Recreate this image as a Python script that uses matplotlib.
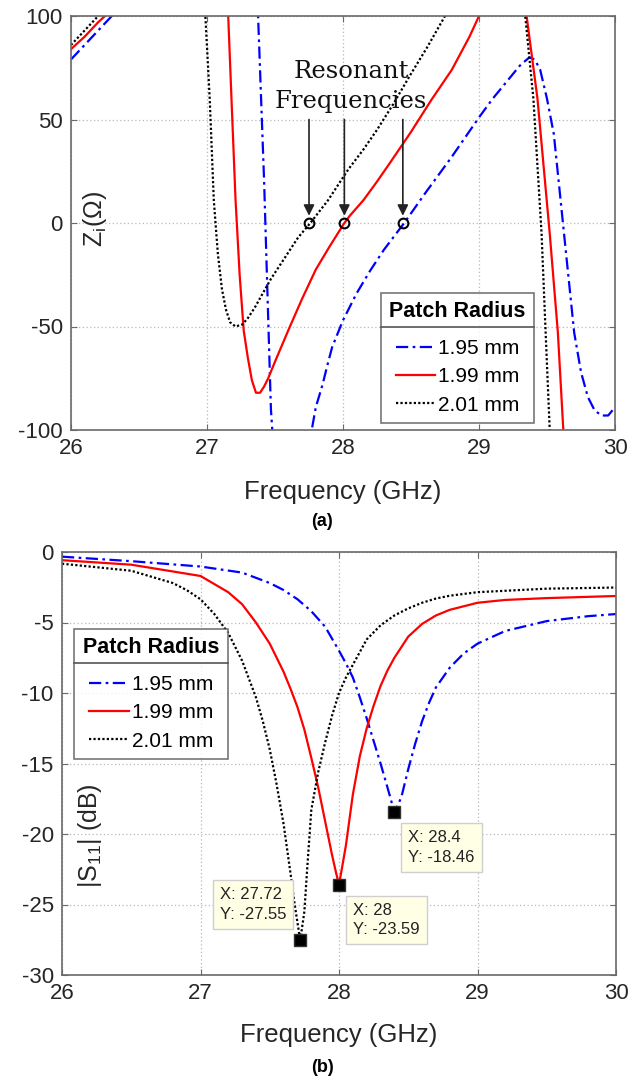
import numpy as np
import matplotlib
matplotlib.use("Agg")
import matplotlib.pyplot as plt
from matplotlib.lines import Line2D

plt.rcParams['font.family'] = ['Liberation Sans', 'DejaVu Sans']
plt.rcParams['mathtext.fontset'] = 'custom'
plt.rcParams['mathtext.rm'] = 'Liberation Sans'
plt.rcParams['mathtext.it'] = 'Liberation Sans'
plt.rcParams['axes.unicode_minus'] = False

labels = ['1.95 mm', '1.99 mm', '2.01 mm']
colors = ['#0000ff', '#ff0000', '#000000']
styles = [(0, (5.5, 2, 1.2, 2)), '-', (0, (1, 1))]

# ---------- (a) imaginary impedance ----------
zf_195 = [26.0, 26.1, 26.2, 26.3, 26.35, np.nan,
          27.37, 27.42, 27.47, 27.49, np.nan,
          27.74, 27.77, 27.8, 27.85, 27.88, 27.92, 28.0, 28.1, 28.2, 28.3, 28.45, 28.6, 28.8, 29.0,
          29.1, 29.2, 29.3, 29.37, 29.41, 29.45, 29.5, 29.55, 29.6, 29.65, 29.7, 29.75, 29.8,
          29.85, 29.9, 29.95, 30.0]
zi_195 = [79, 86, 93, 100, 104, np.nan,
          110, 20, -90, -110, np.nan,
          -110, -100, -89, -78, -70, -60, -47, -34, -23, -13, 0, 14, 32, 51,
          60, 68, 76, 80, 79, 74, 60, 43, 11, -21, -53, -72, -84,
          -90.5, -93, -93, -89]

zf_199 = [26.0, 26.1, 26.2, 26.25, 26.3, np.nan,
          27.15, 27.18, 27.21, 27.24, 27.27, 27.30, 27.33, 27.36, 27.39, 27.42, 27.45, 27.5,
          27.6, 27.7, 27.8, 27.9, 28.01, 28.05, 28.15, 28.25, 28.35, 28.5, 28.65,
          28.8, 28.93, 29.0, 29.03, np.nan,
          29.33, 29.36, 29.43, 29.52, 29.58, 29.62, 29.64]
zi_199 = [84, 90, 97, 100, 104, np.nan,
          110, 60, 11, -25, -52, -65, -76, -82, -82, -79, -75, -67,
          -51.5, -36.5, -22.5, -11.5, 0, 3.5, 11, 20, 29.5, 44, 59.5,
          74, 90, 100, 106, np.nan,
          110, 95, 60, -5, -53, -100, -110]

zf_201 = [26.0, 26.1, 26.2, 26.25, np.nan,
          26.98, 27.0, 27.02, 27.05, 27.08, 27.11, 27.14, 27.17, 27.21, 27.26, 27.3,
          27.35, 27.41, 27.47, 27.53, 27.59, 27.67, 27.76, 27.89, 28.04, 28.15, 28.25,
          28.37, 28.49, 28.62, 28.75, 28.78, np.nan,
          29.32, 29.34, 29.4, 29.46, 29.49, 29.52, 29.54]
zi_201 = [86, 93, 100, 104, np.nan,
          110, 85, 60, 11, -15, -32, -42, -48, -50, -49, -46,
          -41, -34, -27, -21, -15, -7, 0, 11, 26, 35.5, 45,
          57.5, 71, 85, 100, 104, np.nan,
          110, 100, 60, -5, -53, -100, -110]

res_freqs = [27.75, 28.01, 28.44]

# ---------- (b) S11 ----------
sf_195 = [26.0, 26.5, 27.0, 27.3, 27.5, 27.6, 27.7, 27.8, 27.9, 28.0, 28.05, 28.1, 28.15, 28.2,
          28.25, 28.3, 28.35, 28.4, 28.45, 28.5, 28.55, 28.6, 28.65, 28.7, 28.75, 28.8, 28.9,
          29.0, 29.2, 29.5, 29.8, 30.0]
s11_195 = [-0.33, -0.65, -1.03, -1.46, -2.2, -2.7, -3.35, -4.2, -5.3, -7.0, -7.9, -8.9, -10.3, -11.8,
           -13.4, -15.0, -16.7, -18.46, -17.4, -15.4, -13.6, -12.0, -10.7, -9.6, -8.9, -8.2, -7.2,
           -6.5, -5.6, -4.9, -4.55, -4.4]

sf_199 = [26.0, 26.5, 27.0, 27.2, 27.3, 27.4, 27.5, 27.6, 27.65, 27.7, 27.75, 27.8, 27.85, 27.9,
          27.95, 27.98, 28.0, 28.02, 28.05, 28.1, 28.15, 28.2, 28.25, 28.3, 28.35, 28.4, 28.5,
          28.6, 28.7, 28.8, 29.0, 29.2, 29.5, 30.0]
s11_199 = [-0.58, -0.9, -1.7, -2.85, -3.7, -5.0, -6.5, -8.5, -9.7, -11.0, -12.6, -14.6, -16.7, -19.1,
           -21.5, -22.8, -23.59, -22.5, -20.8, -17.2, -14.5, -12.5, -10.9, -9.5, -8.4, -7.5, -6.0,
           -5.1, -4.5, -4.1, -3.6, -3.4, -3.27, -3.12]

sf_201 = [26.0, 26.5, 26.8, 26.9, 27.0, 27.1, 27.2, 27.3, 27.4, 27.45, 27.5, 27.55, 27.6, 27.65,
          27.68, 27.72, 27.75, 27.77, 27.8, 27.85, 27.9, 27.95, 28.0, 28.05, 28.1, 28.2, 28.3,
          28.4, 28.5, 28.6, 28.7, 28.8, 29.0, 29.5, 30.0]
s11_201 = [-0.83, -1.33, -2.2, -2.7, -3.35, -4.4, -5.74, -7.7, -10.3, -12.0, -14.0, -16.5, -19.3, -22.8,
           -25.0, -27.55, -25.5, -22.5, -18.3, -15.6, -13.5, -11.6, -10.0, -8.9, -8.0, -6.2, -5.2,
           -4.5, -4.0, -3.6, -3.3, -3.1, -2.85, -2.6, -2.52]

tip_x = [27.72, 28.0, 28.4]
tip_y = [-27.55, -23.59, -18.46]
tip_text = ['X: 27.72\nY: -27.55', 'X: 28\nY: -23.59', 'X: 28.4\nY: -18.46']

W, H = 644, 1082
fig = plt.figure(figsize=(W / 100, H / 100), dpi=100)

def axes_px(l, t, r, b):
    return fig.add_axes([l / W, 1 - b / H, (r - l) / W, (b - t) / H])

def style_axes(ax):
    ax.grid(True, linestyle=(0, (1, 2)), color='#b8b8b8', linewidth=0.9)
    for s in ax.spines.values():
        s.set_color('#6a6a6a')
        s.set_linewidth(1.2)
    ax.tick_params(direction='in', length=4, labelsize=16, colors='#6a6a6a',
                   labelcolor='#262626', pad=6, top=True, right=True)

def add_legend(ax, **kw):
    leg = ax.legend(title='Patch Radius', fontsize=15, frameon=True, fancybox=False,
                    edgecolor='#555555', handlelength=1.9, handletextpad=0.15,
                    labelspacing=0.45, borderpad=0.4, borderaxespad=0, **kw)
    leg.get_title().set_fontweight('bold')
    leg.get_title().set_fontsize(15.5)
    leg.get_frame().set_linewidth(1.2)
    leg._legend_box.sep = 12
    return leg

# ---- top panel ----
ax1 = axes_px(71, 16, 615, 430)
for f, z, lab, c, ls in zip([zf_195, zf_199, zf_201], [zi_195, zi_199, zi_201], labels, colors, styles):
    ax1.plot(f, z, color=c, linestyle=ls, linewidth=1.6, label=lab)
ax1.set_xlim(26, 30)
ax1.set_ylim(-100, 100)
ax1.set_xticks([26, 27, 28, 29, 30])
ax1.set_yticks([-100, -50, 0, 50, 100])
style_axes(ax1)
ax1.plot(res_freqs, [0] * len(res_freqs), 'o', mfc='none', mec='k', ms=7, mew=1.5, zorder=5)
for fr in res_freqs:
    ax1.annotate('', xy=(fr, 3.5), xytext=(fr, 50),
                 arrowprops=dict(arrowstyle='-|>', mutation_scale=16, color='#222222', lw=1.2,
                                 shrinkA=0, shrinkB=0))
ax1.text(28.06, 66, 'Resonant\nFrequencies', family='DejaVu Serif', fontsize=17.5,
         ha='center', va='center', linespacing=1.35, color='#111111')
ax1.text(0.044, 0.51, r'Z$_{\mathregular{i}}$(Ω)', transform=ax1.transAxes, rotation=90,
         fontsize=18, ha='center', va='center', color='#262626')
leg1 = add_legend(ax1, loc='lower left', bbox_to_anchor=(0.57, 0.017))

# ---- bottom panel ----
ax2 = axes_px(62, 552, 616, 975)
for f, s, lab, c, ls in zip([sf_195, sf_199, sf_201], [s11_195, s11_199, s11_201], labels, colors, styles):
    ax2.plot(f, s, color=c, linestyle=ls, linewidth=1.6, label=lab)
ax2.set_xlim(26, 30)
ax2.set_ylim(-30, 0)
ax2.set_xticks([26, 27, 28, 29, 30])
ax2.set_yticks([-30, -25, -20, -15, -10, -5, 0])
style_axes(ax2)
ax2.plot(tip_x, tip_y, 's', color='k', mec='#333333', ms=8, zorder=6)
tip_pos = [(27.38, -25.0), (28.345, -26.1), (28.74, -20.95)]
for (tx, ty), t in zip(tip_pos, tip_text):
    ax2.text(tx, ty, t, fontsize=12, ha='center', va='center', multialignment='left',
             color='#222222', linespacing=1.4, zorder=7,
             bbox=dict(boxstyle='square,pad=0.42', facecolor='#ffffe6', edgecolor='#cfcfcf', lw=1))
ax2.text(0.05, 0.33, r'|S$_{\mathregular{11}}$| (dB)', transform=ax2.transAxes, rotation=90,
         fontsize=18, ha='center', va='center', color='#262626')
leg2 = add_legend(ax2, loc='upper left', bbox_to_anchor=(0.0225, 0.818))

# labels
fig.text(343 / W, 1 - 492 / H, 'Frequency (GHz)', fontsize=18.5, ha='center', va='center', color='#262626')
fig.text(322 / W, 1 - 522 / H, '(a)', fontsize=13, fontweight='bold', ha='center', va='center')
fig.text(339 / W, 1 - 1035 / H, 'Frequency (GHz)', fontsize=18.5, ha='center', va='center', color='#262626')
fig.text(322 / W, 1 - 1068 / H, '(b)', fontsize=13, fontweight='bold', ha='center', va='center')

# separator line under legend titles
fig.canvas.draw()
inv = fig.transFigure.inverted()
for leg in (leg1, leg2):
    fb = leg.get_frame().get_window_extent()
    tb = leg.get_title().get_window_extent()
    ysep = tb.y0 - 5
    (x0, y0) = inv.transform((fb.x0, ysep))
    (x1, _) = inv.transform((fb.x1, ysep))
    fig.add_artist(Line2D([x0, x1], [y0, y0], color='#555555', lw=1.2, transform=fig.transFigure,
                          zorder=10))

fig.savefig('out.png', dpi=100)
